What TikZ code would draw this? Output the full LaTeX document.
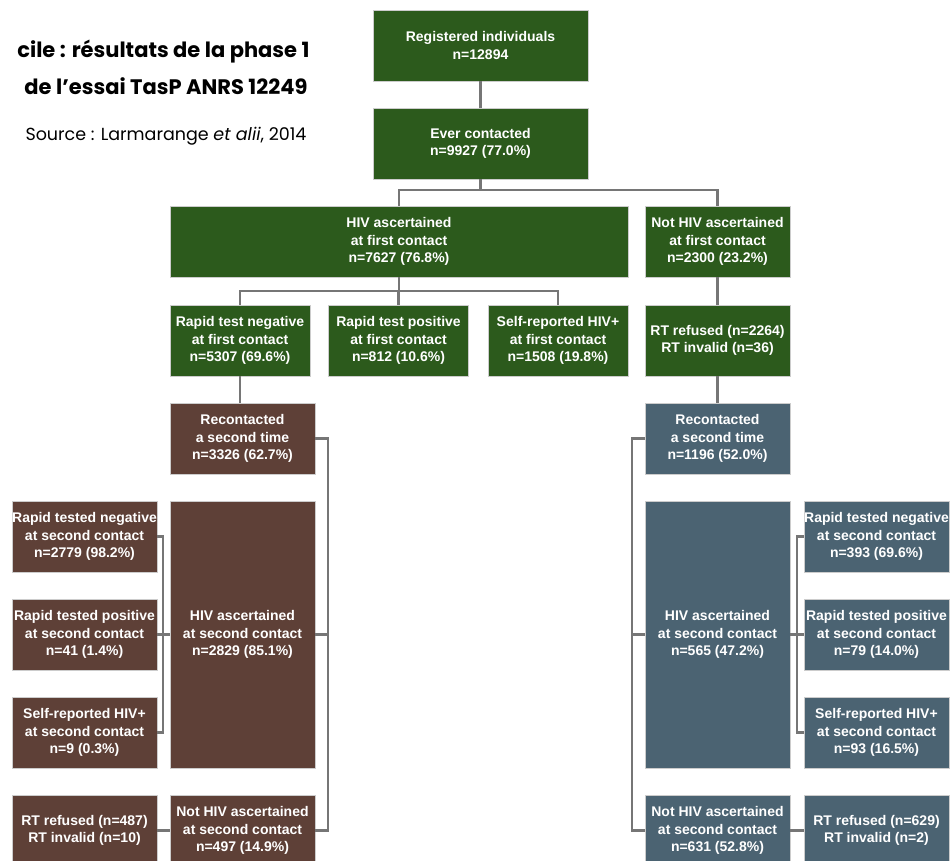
\documentclass[tikz,border=0pt]{standalone}
\usepackage{fontspec}
\setmainfont{Liberation Sans}
\newfontfamily\titlefont{Poppins}
\usetikzlibrary{positioning}
\definecolor{boxgreen}{RGB}{44,90,28}
\definecolor{boxbrown}{RGB}{94,64,55}
\definecolor{boxblue}{RGB}{75,99,114}
\definecolor{linegray}{RGB}{118,118,118}

\begin{document}
\begin{tikzpicture}[x=1pt, y=-1pt,
  box/.style={text=white, font=\fontsize{14}{17.5}\selectfont\bfseries, align=center,
    inner sep=0pt, minimum height=71pt, minimum width=145pt, draw=black!20, line width=0.4pt},
  greenbox/.style={box, fill=boxgreen},
  brownbox/.style={box, fill=boxbrown},
  bluebox/.style={box, fill=boxblue},
  link/.style={draw=linegray, line width=2.5pt}]
\useasboundingbox (0,0) rectangle (951,861);
\clip (0,0) rectangle (951,861);

% Title
\node[anchor=east, font=\titlefont\fontsize{21}{25}\selectfont\bfseries] (titleone) at (313,52) {cile : résultats de la phase 1};
\node[anchor=east, font=\titlefont\fontsize{21}{25}\selectfont\bfseries] (titletwo) at (311,86) {de l’essai TasP ANRS 12249};
\node[anchor=east, font=\titlefont\fontsize{17.5}{21}\selectfont] (source) at (310,136) {Source : Larmarange \textit{et alii}, 2014};

% First contact
\node[greenbox, minimum width=215pt] (reg) at (480.5,45.5) {Registered individuals\\n=12894};
\node[greenbox, minimum width=215pt] (ever) at (480.5,143.5) {Ever contacted\\n=9927 (77.0\%)};
\node[greenbox, minimum width=458pt] (hivone) at (399,241.5) {HIV ascertained\\at first contact\\n=7627 (76.8\%)};
\node[greenbox] (nothivone) at (717.5,241.5) {Not HIV ascertained\\at first contact\\n=2300 (23.2\%)};
\node[greenbox, minimum width=140pt] (rnegone) at (240,340.5) {Rapid test negative\\at first contact\\n=5307 (69.6\%)};
\node[greenbox, minimum width=140pt] (rposone) at (398.5,340.5) {Rapid test positive\\at first contact\\n=812 (10.6\%)};
\node[greenbox, minimum width=140pt] (selfone) at (558,340.5) {Self-reported HIV+\\at first contact\\n=1508 (19.8\%)};
\node[greenbox] (rtone) at (717.5,340.5) {RT refused (n=2264)\\RT invalid (n=36)};

% Second contact, rapid test negative
\node[brownbox] (recbr) at (242.5,438.5) {Recontacted\\a second time\\n=3326 (62.7\%)};
\node[brownbox, minimum height=267pt] (hivtwobr) at (242.5,634.5) {HIV ascertained\\at second contact\\n=2829 (85.1\%)};
\node[brownbox] (nothivbr) at (242.5,830.5) {Not HIV ascertained\\at second contact\\n=497 (14.9\%)};
\node[brownbox] (rnegbr) at (84.5,536.5) {Rapid tested negative\\at second contact\\n=2779 (98.2\%)};
\node[brownbox] (rposbr) at (84.5,634.5) {Rapid tested positive\\at second contact\\n=41 (1.4\%)};
\node[brownbox] (selfbr) at (84.5,732.5) {Self-reported HIV+\\at second contact\\n=9 (0.3\%)};
\node[brownbox] (rtbr) at (84.5,830.5) {RT refused (n=487)\\RT invalid (n=10)};

% Second contact, not HIV ascertained
\node[bluebox] (recbl) at (717.5,438.5) {Recontacted\\a second time\\n=1196 (52.0\%)};
\node[bluebox, minimum height=267pt] (hivtwobl) at (717.5,634.5) {HIV ascertained\\at second contact\\n=565 (47.2\%)};
\node[bluebox] (nothivbl) at (717.5,830.5) {Not HIV ascertained\\at second contact\\n=631 (52.8\%)};
\node[bluebox] (rnegbl) at (876.5,536.5) {Rapid tested negative\\at second contact\\n=393 (69.6\%)};
\node[bluebox] (rposbl) at (876.5,634.5) {Rapid tested positive\\at second contact\\n=79 (14.0\%)};
\node[bluebox] (selfbl) at (876.5,732.5) {Self-reported HIV+\\at second contact\\n=93 (16.5\%)};
\node[bluebox] (rtbl) at (876.5,830.5) {RT refused (n=629)\\RT invalid (n=2)};

% Lines
\draw[link] (reg) -- (ever);
\draw[link] (ever.south) -- ++(0,11) -| (hivone.north);
\draw[link] (ever.south) -- ++(0,11) -| (nothivone.north);
\draw[link] (hivone.south) -- ++(0,14) -| (rnegone.north);
\draw[link] (hivone.south) -- ++(0,14) -| (rposone.north);
\draw[link] (hivone.south) -- ++(0,14) -| (selfone.north);
\draw[link] (nothivone) -- (rtone);
\draw[link] (rnegone.south) -- (rnegone.south |- recbr.north);
\draw[link] (rtone) -- (recbl);

\draw[link] (recbr.east) -- ++(13,0) |- (nothivbr.east);
\draw[link] (hivtwobr.east) -- ++(13,0);
\draw[link] (rnegbr.east) -- ++(6,0) |- (selfbr.east);
\draw[link] (rposbr) -- (hivtwobr);
\draw[link] (nothivbr) -- (rtbr);

\draw[link] (recbl.west) -- ++(-13,0) |- (nothivbl.west);
\draw[link] (hivtwobl.west) -- ++(-13,0);
\draw[link] (rnegbl.west) -- ++(-7,0) |- (selfbl.west);
\draw[link] (rposbl) -- (hivtwobl);
\draw[link] (nothivbl) -- (rtbl);
\end{tikzpicture}
\end{document}
